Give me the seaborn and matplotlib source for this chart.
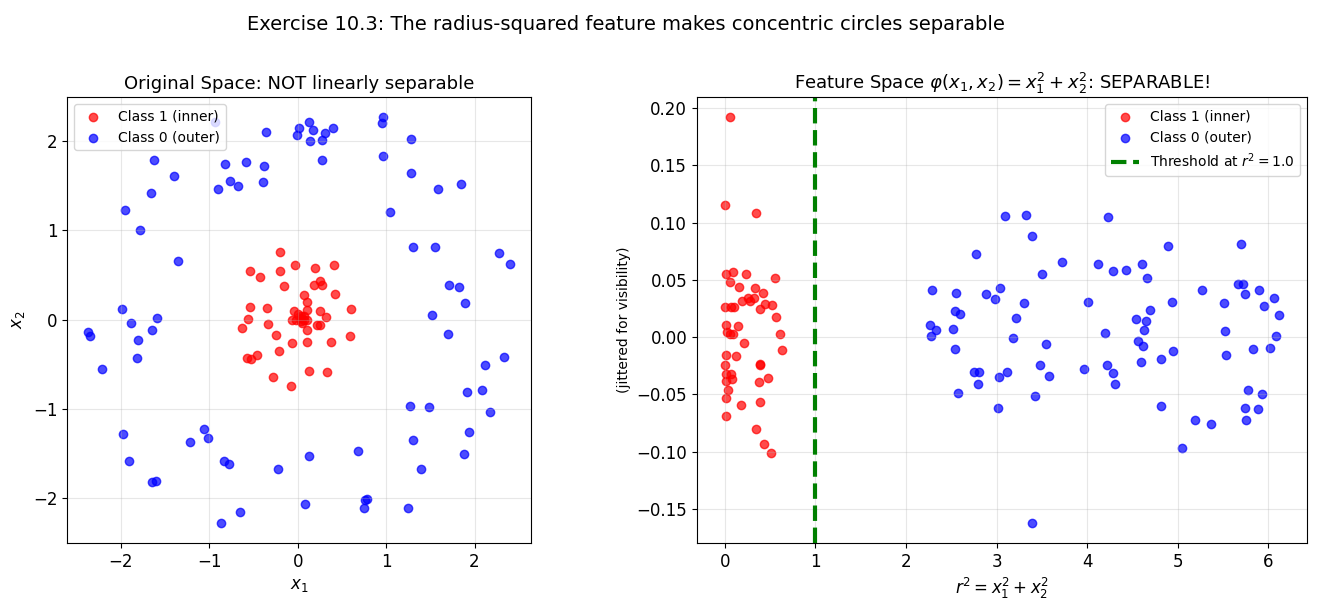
import numpy as np
import seaborn as sns
import matplotlib
matplotlib.use("Agg")
import matplotlib.pyplot as plt

# Original space: inner class (red)
inner_x1 = [-0.195, -0.025, -0.54, -0.195, -0.43, -0.15, 0.07, -0.54, -0.35, -0.04,
            -0.56, -0.63, -0.34, -0.24, -0.06, -0.21, -0.57, -0.53, -0.46, -0.28,
            -0.08, 0.20, 0.41, 0.18, 0.25, 0.28, 0.42, 0.10, 0.11, 0.25,
            0.60, 0.32, 0.22, 0.25, 0.11, 0.59, 0.10, 0.38, 0.13, 0.33,
            0.035, 0.07, 0.07, 0.035, -0.02, 0.05, -0.06, 0.04, 0.0, 0.10]
inner_x2 = [0.76, 0.61, 0.55, 0.55, 0.48, 0.38, 0.27, 0.146, 0.13, 0.10,
            0.01, -0.10, -0.045, -0.17, -0.26, -0.35, -0.43, -0.44, -0.40, -0.65,
            -0.75, 0.58, 0.61, 0.39, 0.43, 0.39, 0.29, 0.20, 0.11, 0.10,
            0.12, 0.03, -0.06, -0.06, -0.12, -0.19, -0.25, -0.25, -0.58, -0.59,
            0.045, 0.04, 0.0, -0.02, 0.0, -0.04, 0.0, 0.02, 0.06, 0.0]

# Original space: outer class (blue)
outer_x1 = [-0.94, -0.36, -1.63, -0.82, -0.58, -0.38, -1.40, -0.76, -0.68, -0.90,
            -0.39, -1.66, -1.95, -1.78, -1.35, -1.99, -1.59, 0.13, 0.01, -0.01,
            0.17, 0.40, 0.31, 0.14, 0.28, 0.27, 0.97, 0.95, 1.28, 0.96,
            1.28, 1.59, 1.85, 1.04, 1.30, 1.55, 2.28, 2.40, 1.71, 1.82,
            1.89, 1.52, -1.89, -2.37, -2.35, -1.65, -1.81, -1.82, -2.21, -1.97,
            -1.06, -1.02, -1.22, -1.91, -0.83, -0.78, -1.65, -1.60, -0.22, -0.65,
            -0.87, 1.70, 2.33, 2.12, 1.92, 2.08, 1.27, 1.49, 2.18, 1.94,
            1.30, 1.88, 0.68, 0.13, 1.40, 0.78, 0.765, 0.75, 1.25, 0.08]
outer_x2 = [2.22, 2.10, 1.79, 1.74, 1.77, 1.72, 1.61, 1.55, 1.50, 1.47,
            1.54, 1.42, 1.23, 1.01, 0.66, 0.12, 0.02, 2.22, 2.15, 2.07,
            2.13, 2.15, 2.09, 2.00, 2.01, 1.79, 2.27, 2.21, 2.03, 1.83,
            1.64, 1.47, 1.52, 1.21, 0.81, 0.81, 0.75, 0.62, 0.39, 0.36,
            0.19, 0.05, -0.04, -0.14, -0.18, -0.12, -0.23, -0.43, -0.56, -1.28,
            -1.23, -1.33, -1.37, -1.59, -1.59, -1.62, -1.82, -1.81, -1.68, -2.16,
            -2.28, -0.16, -0.42, -0.51, -0.81, -0.79, -0.97, -0.98, -1.04, -1.26,
            -1.35, -1.51, -1.48, -1.53, -1.68, -2.01, -2.02, -2.12, -2.11, -2.07]

# Feature space: r^2 and jitter, inner class
inner_r2 = [0.058, 0.0, 0.345, 0.011, 0.091, 0.235, 0.559, 0.058, 0.158, 0.334,
            0.426, 0.187, 0.261, 0.283, 0.327, 0.448, 0.521, 0.386, 0.0, 0.069,
            0.102, 0.565, 0.014, 0.147, 0.030, 0.063, 0.096, 0.606, 0.213, 0.636,
            0.011, 0.124, 0.0, 0.386, 0.389, 0.011, 0.069, 0.011, 0.080, 0.481,
            0.378, 0.041, 0.014, 0.386, 0.176, 0.011, 0.345, 0.433, 0.507]
inner_jit = [0.192, 0.115, 0.108, 0.055, 0.057, 0.055, 0.052, 0.048, 0.044, 0.043,
             0.039, 0.032, 0.034, 0.032, 0.034, 0.029, 0.028, 0.025, 0.026, 0.026,
             0.026, 0.018, 0.011, 0.0096, 0.0044, 0.0029, 0.0031, 0.0026, -0.0052, -0.0111,
             -0.0155, -0.0164, -0.0243, -0.0236, -0.0242, -0.0324, -0.0324, -0.0385, -0.0367, -0.0356,
             -0.0394, -0.0464, -0.0534, -0.0569, -0.0592, -0.0691, -0.0802, -0.0934, -0.1015]

# Feature space: outer class
outer_r2 = [3.09, 3.33, 4.23, 3.39, 2.77, 3.72, 4.12, 4.29, 3.50, 2.29,
            2.55, 3.04, 2.88, 2.98, 3.30, 4.01, 2.54, 2.60, 3.22, 2.27,
            2.33, 2.28, 2.52, 3.18, 4.20, 3.55, 2.54, 3.48, 2.75, 2.81,
            3.12, 3.97, 4.22, 4.28, 3.03, 3.58, 4.31, 2.79, 2.57, 3.42,
            3.02, 4.89, 5.70, 4.43, 4.60, 4.66, 5.27, 5.66, 5.72, 5.74,
            5.90, 6.06, 5.95, 6.12, 4.94, 5.51, 4.69, 4.54, 4.65, 4.63,
            5.52, 6.08, 4.56, 4.62, 4.95, 4.81, 4.59, 5.83, 6.02, 5.53,
            5.77, 5.93, 4.82, 5.74, 5.88, 5.19, 5.37, 5.75, 5.05, 3.39]
outer_jit = [0.106, 0.107, 0.105, 0.088, 0.073, 0.066, 0.064, 0.058, 0.055, 0.041,
             0.039, 0.043, 0.038, 0.033, 0.030, 0.031, 0.023, 0.020, 0.017, 0.011,
             0.006, 0.001, 0.007, -0.001, 0.004, -0.006, -0.0105, -0.024, -0.030, -0.030,
             -0.030, -0.028, -0.024, -0.031, -0.035, -0.034, -0.041, -0.041, -0.049, -0.051,
             -0.062, 0.080, 0.081, 0.059, 0.064, 0.052, 0.041, 0.046, 0.046, 0.038,
             0.041, 0.034, 0.027, 0.019, 0.031, 0.030, 0.024, 0.016, 0.014, 0.006,
             0.005, 0.001, -0.003, -0.008, -0.012, -0.019, -0.022, -0.0105, -0.0096, -0.016,
             -0.046, -0.050, -0.060, -0.062, -0.063, -0.072, -0.076, -0.072, -0.097, -0.162]

threshold = 1.0

fig = plt.figure(figsize=(13.17, 6.08), dpi=100)
ax1 = fig.add_axes([0.0509, 0.1069, 0.3523, 0.7336])
ax2 = fig.add_axes([0.5292, 0.1069, 0.4632, 0.7336])

pt = dict(s=36, alpha=0.7, linewidth=1.0, edgecolor="face")

# left panel
sns.scatterplot(x=inner_x1, y=inner_x2, color="red", label="Class 1 (inner)", ax=ax1, **pt)
sns.scatterplot(x=outer_x1, y=outer_x2, color="blue", label="Class 0 (outer)", ax=ax1, **pt)
ax1.set_title("Original Space: NOT linearly separable", fontsize=13)
ax1.set_xlabel("$x_1$", fontsize=12)
ax1.set_ylabel("$x_2$", fontsize=12)
ax1.legend(loc="upper left", fontsize=10)
ax1.grid(True, alpha=0.3)
ax1.tick_params(labelsize=12)

# right panel
sns.scatterplot(x=inner_r2, y=inner_jit, color="red", label="Class 1 (inner)", ax=ax2, **pt)
sns.scatterplot(x=outer_r2, y=outer_jit, color="blue", label="Class 0 (outer)", ax=ax2, **pt)
ax2.axvline(threshold, color="green", linestyle="--", linewidth=3,
            label=f"Threshold at $r^2 = {threshold}$")
ax2.set_title(r"Feature Space $\varphi(x_1, x_2) = x_1^2 + x_2^2$: SEPARABLE!", fontsize=13)
ax2.set_xlabel(r"$r^2 = x_1^2 + x_2^2$", fontsize=12)
ax2.set_ylabel("(jittered for visibility)", fontsize=10)
ax2.legend(loc="upper right", fontsize=10)
ax2.grid(True, alpha=0.3)
ax2.tick_params(labelsize=12)

fig.suptitle("Exercise 10.3: The radius-squared feature makes concentric circles separable",
             fontsize=14, x=0.475, y=0.975)

fig.savefig("out.png", dpi=100)
